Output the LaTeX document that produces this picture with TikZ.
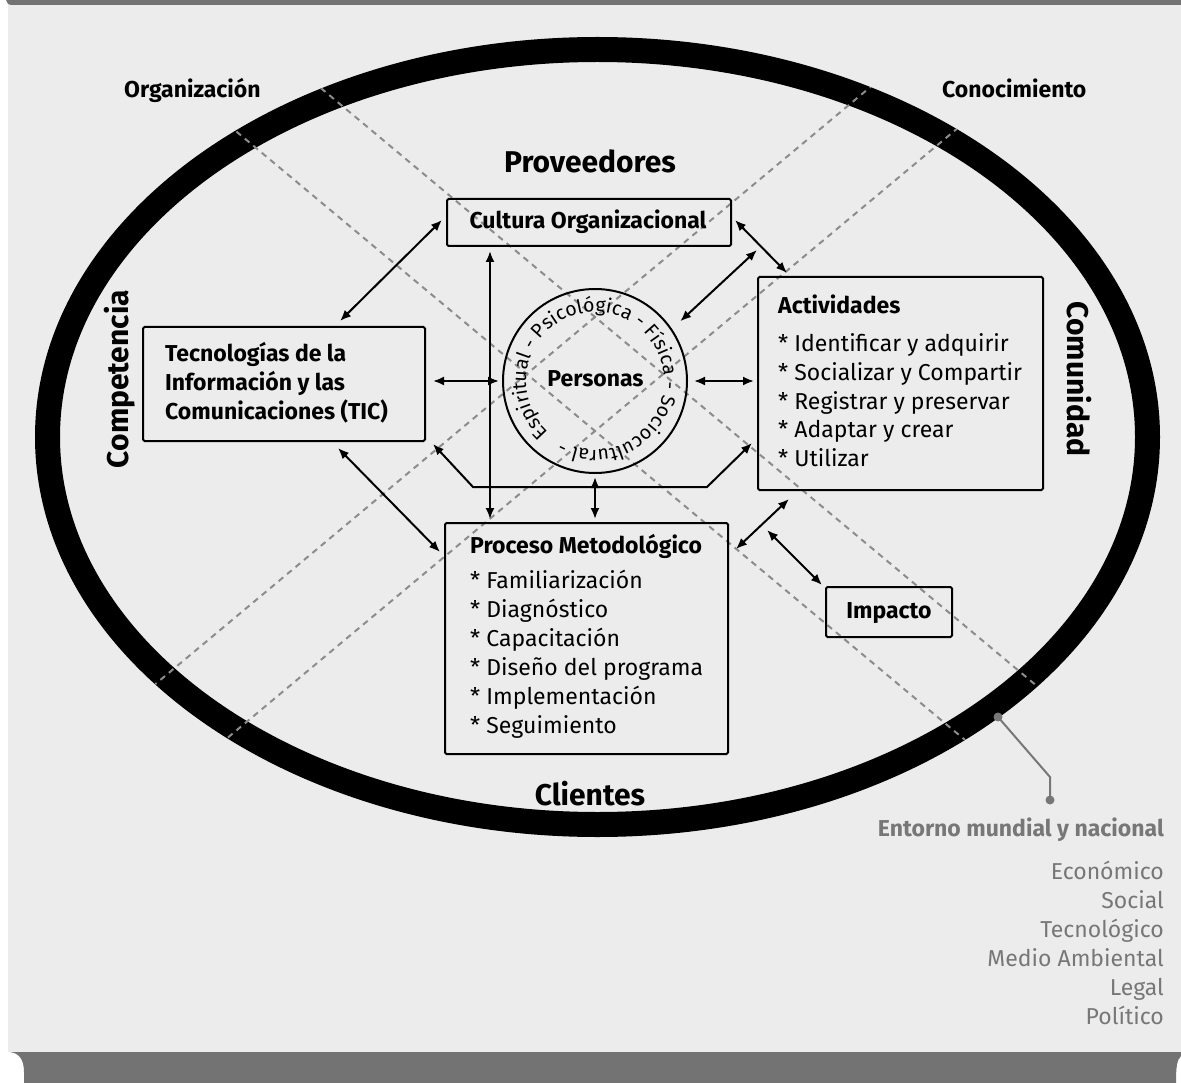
\documentclass[tikz,border=0pt]{standalone}
\usepackage{fontspec}
\setmainfont{Fira Sans}
\usetikzlibrary{arrows.meta,decorations.text}
\definecolor{bg}{HTML}{ECECEC}
\definecolor{barc}{HTML}{737373}
\definecolor{dashc}{HTML}{8C8C8C}
\definecolor{lgray}{HTML}{777777}
\begin{document}
\begin{tikzpicture}[x=1pt,y=-1pt,
  box/.style={draw=black,line width=2pt,rounded corners=1.5pt,inner sep=0pt},
  conn/.style={line width=2pt,{Latex[length=11pt,width=9pt]}-{Latex[length=11pt,width=9pt]}},
  guide/.style={draw=dashc,line width=2pt,dash pattern=on 6pt off 5pt},
  txt/.style={inner sep=0pt,font=\fontsize{23}{28}\selectfont},
  btxt/.style={inner sep=0pt,font=\fontsize{23}{28}\selectfont\bfseries},
  big/.style={inner sep=0pt,font=\fontsize{30}{34}\selectfont\bfseries},
  gtxt/.style={inner sep=0pt,text=lgray,font=\fontsize{23}{28}\selectfont}]
\useasboundingbox (0,0) rectangle (1181,1083);
\fill[white] (0,0) rectangle (1181,1083);
\fill[bg] (8,4) rectangle (1181,1052);
% top and bottom bars
\fill[barc] (6,0) -- (1181,0) -- (1181,5) -- (12,5) .. controls (8,5) and (7,3) .. (6,0) -- cycle;
\fill[barc] (10,1052) -- (1181,1052) -- (1181,1056) .. controls (1177,1060) and (1176,1066) .. (1176,1083) -- (24,1083) -- (24,1072) .. controls (24,1058) and (18,1053) .. (10,1052) -- cycle;
% ring
\draw[line width=25pt] (597.5,437) ellipse [x radius=550, y radius=387.5];
% dashed guides
\begin{scope}
\clip (597.5,437) ellipse [x radius=562.5, y radius=400];
\draw[guide] (0,{317-0.835*595}) -- (1181,{317+0.835*586});
\draw[guide] (0,{431-0.835*595}) -- (1181,{431+0.835*586});
\draw[guide] (0,{317+0.835*595}) -- (1181,{317-0.835*586});
\draw[guide] (0,{431+0.835*595}) -- (1181,{431-0.835*586});
\end{scope}
% boxes
\node[box,minimum width=284pt,minimum height=47pt] (cult) at (589,222.5) {};
\node[box,minimum width=282pt,minimum height=114pt] (tic) at (284,384) {};
\node[box,minimum width=285pt,minimum height=213pt] (act) at (900.5,383.5) {};
\node[box,minimum width=283pt,minimum height=231pt] (proc) at (586.5,638.5) {};
\node[box,minimum width=126pt,minimum height=50pt] (imp) at (889,612) {};
\node[circle,draw=black,line width=2pt,minimum size=184pt,inner sep=0pt] (pers) at (595,381) {};
% circle text
\path[decorate,decoration={text along path,text align=left,
  text={|\fontsize{19.5}{20}\selectfont|Espiritual - Psicológica - Física - Sociocultural -}}]
  (595,381) ++(132:69) arc[start angle=132,end angle=492,radius=69];
% texts
\node[btxt,anchor=base] (cultt) at (588,229) {Cultura Organizacional};
\node[btxt,anchor=base west] (tic1) at (165,362) {Tecnologías de la};
\node[btxt,anchor=base west] (tic2) at (165,390.5) {Información y las};
\node[btxt,anchor=base west] (tic3) at (165,419) {Comunicaciones (TIC)};
\node[btxt,anchor=base west] (actt) at (778,314) {Actividades};
\foreach \t [count=\i from 0] in {Identificar y adquirir,Socializar y Compartir,Registrar y preservar,Adaptar y crear,Utilizar}
  \node[txt,anchor=base west] (act\i) at (778,352+28.5*\i) {* \t};
\node[btxt,anchor=base west] (proct) at (470,553) {Proceso Metodológico};
\foreach \t [count=\i from 0] in {Familiarización,Diagnóstico,Capacitación,Diseño del programa,Implementación,Seguimiento}
  \node[txt,anchor=base west] (proc\i) at (470,588+29*\i) {* \t};
\node[btxt,anchor=base] (impt) at (889,618) {Impacto};
\node[btxt,anchor=base] (perst) at (595.5,386) {Personas};
\node[btxt,anchor=base west] (org) at (124,98) {Organización};
\node[btxt,anchor=base west] (con) at (942,98) {Conocimiento};
\node[big,anchor=base] (prov) at (590,173) {Proveedores};
\node[big,anchor=base] (cli) at (590,805) {Clientes};
\node[big,rotate=90] (comp) at (120,379) {Competencia};
\node[big,rotate=-90] (comu) at (1079.5,379) {Comunidad};
% connectors
\coordinate (cfree) at (757,250);
\coordinate (kfree) at (767,530);
\coordinate (h1) at (473,487);
\coordinate (h2) at (707,487);
\draw[conn] ([xshift=56pt,yshift=5pt]tic.north) -- ([xshift=-4pt,yshift=2.5pt]cult.west);
\draw[conn] ([xshift=3pt,yshift=2.5pt]cult.east) -- ([xshift=30pt,yshift=3pt]act.north west);
\draw[conn] ([shift={(35:11pt)}]pers.35) -- (cfree);
\draw[conn] ([xshift=7pt,yshift=3pt]tic.east) -- ([xshift=-3pt]pers.west);
\draw[conn] ([xshift=6pt]pers.east) -- ([xshift=-3pt,yshift=2.5pt]act.west);
\draw[conn] ([xshift=44pt,yshift=-4pt]cult.south west) -- ([xshift=46pt,yshift=3pt]proc.north west);
\draw[conn] ([yshift=-3pt]pers.south) -- ([xshift=8.5pt,yshift=3pt]proc.north);
\draw[conn] ([xshift=7pt,yshift=-2pt]tic.south east) -- (h1) -- (h2) -- ([xshift=-5pt,yshift=48pt]act.south west);
\draw[conn] ([xshift=54pt,yshift=-6pt]tic.south) -- ([xshift=-4pt,yshift=-30pt]proc.north west);
\draw[conn] ([xshift=7pt,yshift=-27pt]proc.north east) -- ([xshift=32pt,yshift=-8pt]act.south west);
\draw[conn] (kfree) -- ([xshift=-3pt,yshift=1pt]imp.north west);
% legend
\coordinate (l1) at (998,717);
\coordinate (l2) at (1050,777);
\coordinate (l3) at (1050,800);
\draw[lgray,line width=2pt] (l1) -- (l2) -- (l3);
\fill[lgray] (l1) circle (4.5);
\fill[lgray] (l3) circle (4.5);
\node[gtxt,font=\fontsize{23}{28}\selectfont\bfseries,anchor=base east] (ent) at (1164,836) {Entorno mundial y nacional};
\foreach \t [count=\i from 0] in {Económico,Social,Tecnológico,Medio Ambiental,Legal,Político}
  \node[gtxt,anchor=base east] (g\i) at (1164,879+29*\i) {\t};
\end{tikzpicture}
\end{document}
